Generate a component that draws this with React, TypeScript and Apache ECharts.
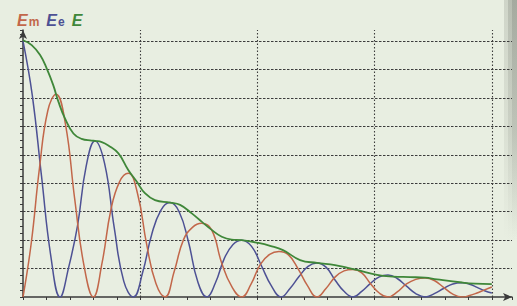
import React, { useEffect, useRef } from "react";
import * as echarts from "echarts";

// Ee (blue): electric energy, starts at its maximum
const eeTime = [
  0, 0.395, 0.79, 1.185, 1.58,
  1.95, 2.325, 2.695, 3.07,
  3.48, 3.89, 4.3, 4.71,
  5.1, 5.49, 5.88, 6.27,
  6.66, 7.055, 7.45, 7.84,
  8.21, 8.585, 8.96, 9.33,
  9.75, 10.17, 10.59, 11.01,
  11.39, 11.775, 12.16, 12.54,
  12.925, 13.31, 13.695, 14.08,
  14.45, 14.825, 15.2, 15.57,
  15.965, 16.36, 16.755, 17.15,
  17.545, 17.94, 18.335, 18.73,
  19.05, 19.37, 19.69, 20,
];
const eeValues = [
  9.0, 7.1, 4.25, 1.45, 0,
  1.05, 2.5, 4.6, 5.49,
  4.7, 2.45, 0.55, 0,
  0.85, 2.2, 3.05, 3.32,
  3.0, 1.95, 0.55, 0,
  0.5, 1.35, 1.85, 2.0,
  1.78, 1.1, 0.4, 0,
  0.3, 0.72, 1.08, 1.2,
  1.05, 0.6, 0.2, 0,
  0.2, 0.48, 0.71, 0.77,
  0.65, 0.38, 0.12, 0,
  0.12, 0.3, 0.46, 0.5,
  0.45, 0.34, 0.22, 0.14,
];

// Em (red): magnetic energy, starts at zero
const emTime = [
  0, 0.3525, 0.705, 1.0575, 1.41,
  1.8075, 2.205, 2.6025, 3.0,
  3.3725, 3.745, 4.1175, 4.49,
  4.8825, 5.275, 5.6675, 6.06,
  6.45, 6.84, 7.23, 7.62,
  8.0475, 8.475, 8.9025, 9.33,
  9.7275, 10.125, 10.5225, 10.92,
  11.325, 11.73, 12.135, 12.54,
  12.925, 13.31, 13.695, 14.08,
  14.4525, 14.825, 15.1975, 15.57,
  15.965, 16.36, 16.755, 17.15,
  17.545, 17.94, 18.335, 18.73,
  19.05, 19.37, 19.69, 20,
];
const emValues = [
  0, 1.9, 4.55, 6.55, 7.13,
  6.1, 3.45, 1.1, 0,
  1.2, 3.05, 4.05, 4.35,
  3.65, 1.85, 0.48, 0,
  0.9, 2.0, 2.45, 2.59,
  2.36, 1.2, 0.37, 0,
  0.45, 1.15, 1.5, 1.6,
  1.48, 1.0, 0.4, 0,
  0.3, 0.7, 0.92, 0.97,
  0.85, 0.47, 0.14, 0,
  0.18, 0.46, 0.62, 0.67,
  0.58, 0.34, 0.1, 0,
  0.05, 0.14, 0.25, 0.35,
];

// E (green): total energy
const eTime = [0, 0.37, 0.73, 1.01, 1.29, 1.51, 1.79, 2.15, 2.5, 2.93, 3.07, 3.36, 3.64, 4.07, 4.49, 4.85, 5.2, 5.63, 6.27, 6.7, 7.2, 7.62, 8.05, 8.48, 8.9, 9.33, 10.04, 10.54, 11.09, 11.82, 12.54, 13.31, 13.82, 14.25, 15.1, 15.78, 16.51, 17.15, 17.66, 18.73, 19.28, 20];
const eValues = [9.03, 8.86, 8.51, 8.04, 7.45, 6.87, 6.28, 5.75, 5.56, 5.5, 5.49, 5.45, 5.33, 5.05, 4.47, 4.06, 3.65, 3.41, 3.32, 3.24, 2.94, 2.65, 2.36, 2.12, 2.02, 2.0, 1.9, 1.8, 1.65, 1.3, 1.2, 1.12, 1.03, 0.95, 0.78, 0.72, 0.7, 0.68, 0.62, 0.51, 0.47, 0.45];

const verticalGrid = [5, 10, 15, 20];
const horizontalGrid = [1, 2, 3, 4, 5, 6, 7, 8, 9];

const RED = "#c2674a";
const BLUE = "#4d5194";
const GREEN = "#3f8739";
const AXIS = "#3a3a3a";

const pairs = (t: number[], v: number[]) => t.map((x, i) => [x, v[i]]);

export default function App() {
  const ref = useRef<HTMLDivElement>(null);
  useEffect(() => {
    if (!ref.current) return;
    const chart = echarts.init(ref.current, undefined, { renderer: "svg" });
    const gridMarks = [
      ...verticalGrid.map((v) => ({ xAxis: v, lineStyle: { type: [1.5, 2], color: "#3c3c3c", width: 1.1 } })),
      ...horizontalGrid.map((v) => ({ yAxis: v, lineStyle: { type: [2.5, 1.5], color: "#3c3c3c", width: 1 } })),
    ];
    const base = {
      fontSize: 16,
      fontStyle: "italic" as const,
      fontWeight: "bold" as const,
      fontFamily: "Liberation Sans",
      lineHeight: 20,
      verticalAlign: "bottom" as const,
    };
    const sub = {
      fontSize: 12,
      fontWeight: "bold" as const,
      fontFamily: "Liberation Sans",
      lineHeight: 8,
      verticalAlign: "bottom" as const,
      padding: [0, 7, 0, 1],
    };
    const strip = (width: number, alpha: number) => ({
      type: "rect",
      right: 0,
      top: 0,
      shape: { width, height: 240 },
      silent: true,
      style: {
        fill: new echarts.graphic.LinearGradient(0, 0, 0, 1, [
          { offset: 0, color: `rgba(130,135,125,${alpha})` },
          { offset: 0.55, color: `rgba(140,145,135,${alpha * 0.6})` },
          { offset: 1, color: "rgba(150,155,145,0)" },
        ]),
      },
    });
    chart.setOption({
      animation: false,
      backgroundColor: "#e8eee1",
      title: {
        left: 17,
        top: 8,
        padding: 0,
        text: "{r|E}{rs|m}{b|E}{bs|e}{g|E}",
        textStyle: {
          rich: {
            r: { ...base, color: RED },
            rs: { ...sub, color: RED },
            b: { ...base, color: BLUE },
            bs: { ...sub, color: BLUE },
            g: { ...base, color: GREEN },
          },
        },
      },
      grid: { left: 23, right: 5, top: 30, bottom: 9 },
      xAxis: {
        type: "value",
        min: 0,
        max: 20.86,
        interval: 1,
        axisLine: {
          show: true,
          symbol: ["none", "arrow"],
          symbolSize: [6, 9],
          lineStyle: { color: AXIS, width: 1.5 },
        },
        axisTick: { show: true, length: 3, lineStyle: { color: AXIS, width: 1 } },
        axisLabel: { show: false },
        splitLine: { show: false },
      },
      yAxis: {
        type: "value",
        min: 0,
        max: 9.39,
        interval: 0.25,
        axisLine: {
          show: true,
          symbol: ["none", "arrow"],
          symbolSize: [6, 9],
          lineStyle: { color: AXIS, width: 1.5 },
        },
        axisTick: { show: true, length: 3, lineStyle: { color: AXIS, width: 1 } },
        axisLabel: { show: false },
        splitLine: { show: false },
      },
      graphic: [strip(13, 0.25), strip(9, 0.3), strip(5, 0.35)],
      series: [
        {
          type: "line",
          name: "grid",
          data: [],
          silent: true,
          markLine: {
            z: 1,
            silent: true,
            symbol: ["none", "none"],
            label: { show: false },
            data: gridMarks,
          },
        },
        {
          type: "line",
          name: "Ee",
          data: pairs(eeTime, eeValues),
          smooth: 0.45,
          symbol: "none",
          z: 3,
          lineStyle: { color: BLUE, width: 1.5 },
        },
        {
          type: "line",
          name: "Em",
          data: pairs(emTime, emValues),
          smooth: 0.45,
          symbol: "none",
          z: 3,
          lineStyle: { color: RED, width: 1.5 },
        },
        {
          type: "line",
          name: "E",
          data: pairs(eTime, eValues),
          smooth: 0.45,
          symbol: "none",
          z: 4,
          lineStyle: { color: GREEN, width: 1.8 },
        },
      ],
    });
    return () => chart.dispose();
  }, []);
  return (
    <div
      ref={ref}
      style={{ position: "fixed", left: 0, top: 0, width: 517, height: 306 }}
    />
  );
}
